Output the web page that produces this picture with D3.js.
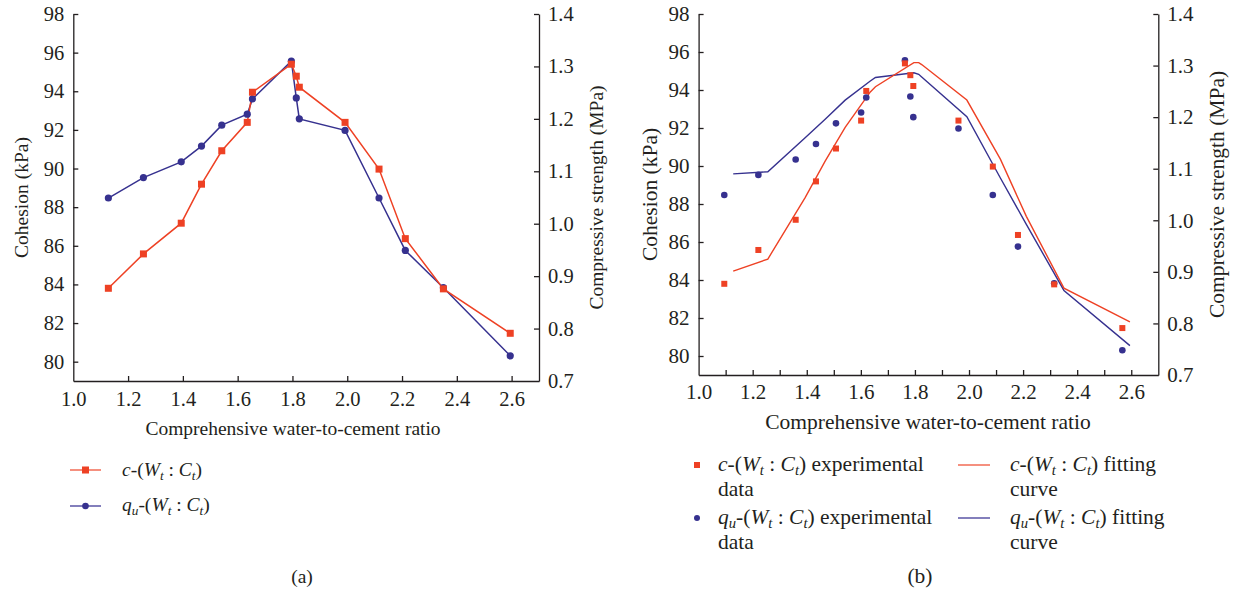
<!DOCTYPE html>
<html><head><meta charset="utf-8">
<script src="https://cdn.jsdelivr.net/npm/d3@7"></script>
<style>
body{margin:0;background:#fff;}
text{font-family:"Liberation Serif","Times New Roman",serif;fill:#231f20;}
</style></head>
<body><svg id="c" width="1233" height="597"></svg>
<script>
// ---- data ----
const xTicksLabels = ["1.0","1.2","1.4","1.6","1.8","2.0","2.2","2.4","2.6"];
const cohesionTicks = [80,82,84,86,88,90,92,94,96,98];
const strengthTicks = [0.7,0.8,0.9,1.0,1.1,1.2,1.3,1.4];
// panel (a) water-to-cement ratios
const ratioA = [1.128,1.256,1.394,1.468,1.542,1.635,1.654,1.796,1.814,1.825,1.992,2.116,2.212,2.351,2.595];
// panel (b) experimental ratios (as plotted)
const ratioB = [1.095,1.221,1.359,1.434,1.508,1.601,1.620,1.763,1.783,1.794,1.961,2.088,2.181,2.315,2.567];
const cohesion = [83.8,85.58,87.17,89.19,90.92,92.39,93.95,95.4,94.78,94.21,92.39,89.97,86.37,83.77,81.47];
const strength = [1.049,1.088,1.118,1.148,1.188,1.209,1.238,1.310,1.240,1.200,1.178,1.049,0.949,0.878,0.748];
// fitting curves (panel b)
const cohesionFit = [84.47,85.1,88.34,90.26,92.03,93.9,94.17,95.44,95.44,95.34,93.47,90.36,87.35,83.57,81.8];
const strengthFit = [1.090,1.094,1.160,1.196,1.233,1.270,1.277,1.286,1.283,1.278,1.201,1.082,0.992,0.864,0.757];

const RED = "#ee4124", BLUE = "#36318f";
const svg = d3.select("#c");

function richText(g, x, y, parts, size){
  const t = g.append("text").attr("x",x).attr("y",y).style("font-size",size+"px");
  const sh = size*0.2;
  parts.forEach(p=>{
    const s = t.append("tspan").text(p.t);
    if(p.i) s.style("font-style","italic");
    if(p.sub){ s.attr("dy", sh).style("font-size",(size*0.68)+"px"); }
    if(p.up) s.attr("dy", -sh);
  });
  return t;
}
function cLabel(g,x,y,size,suffix){
  const parts=[{t:"c",i:1},{t:"-("},{t:"W",i:1},{t:"t",i:1,sub:1},{t:" : ",up:1},{t:"C",i:1},{t:"t",i:1,sub:1},{t:")",up:1}];
  if(suffix) parts.push({t:suffix});
  return richText(g,x,y,parts,size);
}
function qLabel(g,x,y,size,suffix){
  const parts=[{t:"q",i:1},{t:"u",i:1,sub:1},{t:"-(",up:1},{t:"W",i:1},{t:"t",i:1,sub:1},{t:" : ",up:1},{t:"C",i:1},{t:"t",i:1,sub:1},{t:")",up:1}];
  if(suffix) parts.push({t:suffix});
  return richText(g,x,y,parts,size);
}

function panel(opt){
  const g = svg.append("g");
  const x = d3.scaleLinear().domain([1.0,2.7]).range([opt.x0,opt.x1]);
  const yL = d3.scaleLinear().domain([79,98]).range([opt.yb,opt.yt]);
  const yR = d3.scaleLinear().domain([0.7,1.4]).range([opt.yb,opt.yt]);
  const xt = d3.range(0, opt.minor?17:9).map(i=> 1.0 + i*(opt.minor?0.1:0.2));
  const ax = g.append("g").attr("transform",`translate(0,${opt.yb})`)
    .call(d3.axisBottom(x).tickValues(xt).tickSizeInner(-5).tickSizeOuter(0).tickPadding(opt.xpad)
      .tickFormat(d=>{const k=Math.round((d-1)*10); return k%2===0? xTicksLabels[k/2] : "";}));
  const al = g.append("g").attr("transform",`translate(${opt.x0},0)`)
    .call(d3.axisLeft(yL).tickValues(cohesionTicks).tickSizeInner(-5).tickSizeOuter(0).tickPadding(opt.ypad).tickFormat(d3.format("d")));
  const ar = g.append("g").attr("transform",`translate(${opt.x1},0)`)
    .call(d3.axisRight(yR).tickValues(strengthTicks).tickSizeInner(-5).tickSizeOuter(0).tickPadding(opt.ypad).tickFormat(d3.format(".1f")));
  [ax,al,ar].forEach(a=>{
    a.attr("font-family",null).attr("font-size",null);
    a.selectAll("text").style("font-size",opt.tfs+"px").style("fill","#231f20");
    a.selectAll("line,path").attr("stroke","#231f20").attr("stroke-width",1.3);
  });
  ar.selectAll(".tick").filter(d=>d===0.7).select("line").remove();
  ax.selectAll(".tick").filter(d=>d===1.0).select("line").remove();
  // titles
  g.append("text").attr("x",opt.xtc).attr("y",opt.yb+opt.xtitle).attr("text-anchor","middle")
    .style("font-size",opt.fs+"px").text("Comprehensive water-to-cement ratio");
  g.append("text").attr("transform",`translate(${opt.ltx},${(opt.yt+opt.yb)/2}) rotate(-90)`).attr("text-anchor","middle")
    .style("font-size",opt.fs+"px").text("Cohesion (kPa)");
  g.append("text").attr("transform",`translate(${opt.rtx},${(opt.yt+opt.yb)/2}) rotate(-90)`).attr("text-anchor","middle")
    .style("font-size",opt.fs+"px").text("Compressive strength (MPa)");
  return {g,x,yL,yR};
}

// ---- panel (a) ----
const FA = 19.5;
const A = panel({x0:73.3,x1:539,yt:14,yb:381,minor:false,tfs:20.5,fs:FA,xpad:10,ypad:9,xtitle:54,xtc:293,ltx:28,rtx:603});
const lineA_c = d3.line().x((d,i)=>A.x(ratioA[i])).y(d=>A.yL(d));
const lineA_q = d3.line().x((d,i)=>A.x(ratioA[i])).y(d=>A.yR(d));
A.g.append("path").datum(strength).attr("d",lineA_q).attr("fill","none").attr("stroke",BLUE).attr("stroke-width",1.5);
A.g.append("path").datum(cohesion).attr("d",lineA_c).attr("fill","none").attr("stroke",RED).attr("stroke-width",1.5);
A.g.selectAll(".qa").data(strength).join("circle").attr("cx",(d,i)=>A.x(ratioA[i])).attr("cy",d=>A.yR(d)).attr("r",3.6).attr("fill",BLUE);
A.g.selectAll(".ca").data(cohesion).join("rect").attr("x",(d,i)=>A.x(ratioA[i])-3.5).attr("y",d=>A.yL(d)-3.5).attr("width",7).attr("height",7).attr("fill",RED);

// legend (a)
const LA = svg.append("g");
LA.append("line").attr("x1",70).attr("x2",101).attr("y1",470).attr("y2",470).attr("stroke","#f26b55").attr("stroke-width",1.5);
LA.append("rect").attr("x",82).attr("y",466.5).attr("width",7).attr("height",7).attr("fill",RED);
cLabel(LA,122,476,FA);
LA.append("line").attr("x1",70).attr("x2",101).attr("y1",506).attr("y2",506).attr("stroke","#5a55a6").attr("stroke-width",1.5);
LA.append("circle").attr("cx",85.5).attr("cy",506).attr("r",3.3).attr("fill",BLUE);
qLabel(LA,122,511,FA);
svg.append("text").attr("x",302).attr("y",583).attr("text-anchor","middle").style("font-size",FA+"px").text("(a)");

// ---- panel (b) ----
const FB = 21.5;
const B = panel({x0:698.6,x1:1158.3,yt:14,yb:375,minor:true,tfs:21,fs:FB,xpad:9,ypad:9,xtitle:54,xtc:928,ltx:657,rtx:1224});
const lineB_c = d3.line().x((d,i)=>B.x(ratioA[i])).y(d=>B.yL(d));
const lineB_q = d3.line().x((d,i)=>B.x(ratioA[i])).y(d=>B.yR(d));
B.g.append("path").datum(strengthFit).attr("d",lineB_q).attr("fill","none").attr("stroke",BLUE).attr("stroke-width",1.4);
B.g.append("path").datum(cohesionFit).attr("d",lineB_c).attr("fill","none").attr("stroke",RED).attr("stroke-width",1.4);
B.g.selectAll(".qb").data(strength).join("circle").attr("cx",(d,i)=>B.x(ratioB[i])).attr("cy",d=>B.yR(d)).attr("r",3.3).attr("fill",BLUE);
B.g.selectAll(".cb").data(cohesion).join("rect").attr("x",(d,i)=>B.x(ratioB[i])-3).attr("y",d=>B.yL(d)-3).attr("width",6).attr("height",6).attr("fill",RED);

// legend (b)
const LB = svg.append("g");
LB.append("rect").attr("x",694).attr("y",462).attr("width",6).attr("height",6).attr("fill",RED);
cLabel(LB,718,471,FB," experimental");
LB.append("text").attr("x",718).attr("y",496).style("font-size",FB+"px").text("data");
LB.append("circle").attr("cx",697).attr("cy",518).attr("r",3).attr("fill",BLUE);
qLabel(LB,718,524,FB," experimental");
LB.append("text").attr("x",718).attr("y",549).style("font-size",FB+"px").text("data");
LB.append("line").attr("x1",958).attr("x2",990).attr("y1",465).attr("y2",465).attr("stroke","#f26b55").attr("stroke-width",1.5);
cLabel(LB,1010,471,FB," fitting");
LB.append("text").attr("x",1010).attr("y",496).style("font-size",FB+"px").text("curve");
LB.append("line").attr("x1",958).attr("x2",990).attr("y1",518).attr("y2",518).attr("stroke","#5a55a6").attr("stroke-width",1.5);
qLabel(LB,1010,524,FB," fitting");
LB.append("text").attr("x",1010).attr("y",549).style("font-size",FB+"px").text("curve");
svg.append("text").attr("x",920).attr("y",583).attr("text-anchor","middle").style("font-size",FB+"px").text("(b)");
</script></body></html>
